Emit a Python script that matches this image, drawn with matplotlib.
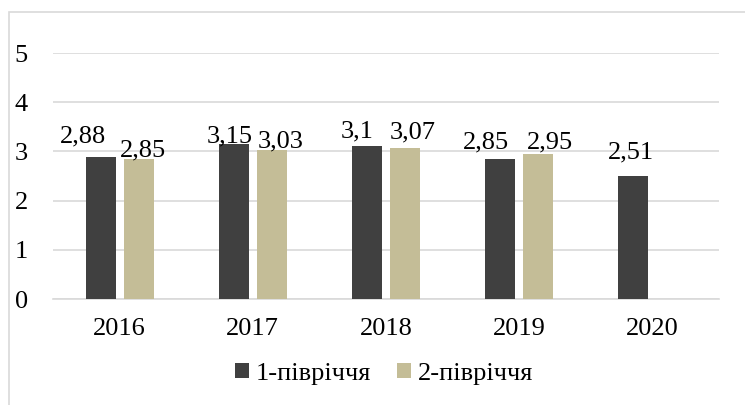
import numpy as np
import matplotlib
matplotlib.use("Agg")
import matplotlib.pyplot as plt
from matplotlib.patches import Rectangle

plt.rcParams['font.family'] = ['Liberation Serif', 'DejaVu Serif']

years = ["2016", "2017", "2018", "2019", "2020"]
half1 = [2.88, 3.15, 3.1, 2.85, 2.51]
half2 = [2.85, 3.03, 3.07, 2.95, np.nan]
series_names = ["1-півріччя", "2-півріччя"]

# label nudges in pixels (dx, dy above bar top), mimicking Excel's placement
nudge1 = [(-18, 15), (-4, 2), (-10, 9), (-14, 10), (-2, 17)]
nudge2 = [(4, 2), (9, 2), (8, 10), (12, 5), (0, 0)]

dark = "#404040"
tan = "#c4bd97"
grid = "#d9d9d9"

W, H = 745, 405
fig = plt.figure(figsize=(W / 100, H / 100), dpi=100)
ax = fig.add_axes([53 / W, (H - 299) / H, 666 / W, 246 / H])

# chart border (cropped at right/bottom like the reference)
fig.patches.append(Rectangle((9 / W, -0.1), 1.2, (H - 12) / H + 0.1, transform=fig.transFigure,
                             fill=False, edgecolor=grid, lw=1.2))

x = np.arange(len(years))
bw = 0.225
off = 0.143
b1 = ax.bar(x - off, half1, bw, color=dark, label=series_names[0], zorder=3)
b2 = ax.bar(x + off, half2, bw, color=tan, label=series_names[1], zorder=3)

px = 72 / 100  # pixels -> points
for i, v in enumerate(half1):
    dx, dy = nudge1[i]
    ax.annotate(f"{v:g}".replace(".", ","), (x[i] - off, v), xytext=(dx * px, dy * px),
                textcoords="offset points", ha="center", va="baseline", fontsize=19, zorder=4)
for i, v in enumerate(half2):
    if np.isnan(v):
        continue
    dx, dy = nudge2[i]
    ax.annotate(f"{v:g}".replace(".", ","), (x[i] + off, v), xytext=(dx * px, dy * px),
                textcoords="offset points", ha="center", va="baseline", fontsize=19, zorder=4)

ax.set_xlim(-0.5, len(years) - 0.5)
ax.set_ylim(0, 5)
ax.set_yticks(range(0, 6))
ax.set_xticks(x)
ax.set_xticklabels(years)
ax.yaxis.grid(True, color=grid, lw=1.2, zorder=0)
ax.set_axisbelow(True)
for s in ["top", "right", "left"]:
    ax.spines[s].set_visible(False)
ax.spines["bottom"].set_color(grid)
ax.spines["bottom"].set_linewidth(1.2)
ax.tick_params(axis="both", length=0, labelsize=19)
ax.tick_params(axis="y", pad=18)
ax.tick_params(axis="x", pad=14)

ax.legend(loc="center", bbox_to_anchor=(384 / W, (H - 374) / H), bbox_transform=fig.transFigure,
          ncol=2, frameon=False, fontsize=19, handlelength=0.53, handleheight=0.53,
          handletextpad=0.25, columnspacing=1.0)

fig.savefig("out.png", dpi=100)
